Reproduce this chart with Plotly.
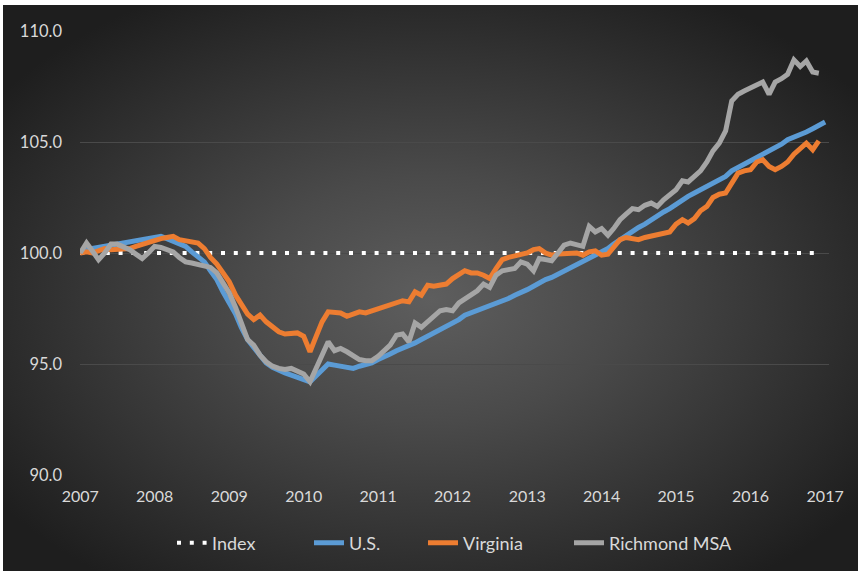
import base64
import pandas as pd
import plotly.graph_objects as go

# ---- data (monthly, Jan 2007 = start) ----
us = [100.0, 100.15, 100.2, 100.25, 100.3, 100.35, 100.4, 100.45, 100.5, 100.55,
      100.6, 100.65, 100.7, 100.75, 100.65, 100.55, 100.45, 100.3, 100.05, 99.85,
      99.6, 99.2, 98.8, 98.25, 97.75, 97.25, 96.65, 96.1, 95.75, 95.35,
      95.05, 94.85, 94.7, 94.6, 94.5, 94.4, 94.3, 94.2, 94.45, 94.75,
      95.0, 94.95, 94.9, 94.85, 94.8, 94.9, 94.95, 95.05, 95.2, 95.3,
      95.45, 95.6, 95.7, 95.85, 95.95, 96.1, 96.25, 96.4, 96.55, 96.7,
      96.85, 97.0, 97.2, 97.3, 97.4, 97.5, 97.6, 97.7, 97.8, 97.95,
      98.1, 98.2, 98.35, 98.5, 98.65, 98.8, 98.9, 99.05, 99.2, 99.3,
      99.45, 99.6, 99.75, 99.9, 100.05, 100.2, 100.4, 100.6, 100.8, 101.0,
      101.15, 101.3, 101.5, 101.65, 101.85, 102.0, 102.2, 102.4, 102.55, 102.7,
      102.85, 103.0, 103.2, 103.35, 103.45, 103.7, 103.85, 104.0, 104.15, 104.3,
      104.45, 104.55, 104.75, 104.9, 105.1, 105.2, 105.35, 105.45, 105.6, 105.75,
      105.9]

virginia = [100.0, 100.05, 100.0, 100.1, 100.2, 100.15, 100.15, 100.2, 100.2, 100.3,
            100.4, 100.5, 100.55, 100.65, 100.7, 100.75, 100.6, 100.55, 100.5, 100.45,
            100.2, 99.8, 99.5, 99.15, 98.7, 98.1, 97.7, 97.25, 97.0, 97.2,
            96.9, 96.65, 96.45, 96.35, 96.4, 96.4, 96.25, 95.55, 96.2, 96.9,
            97.35, 97.35, 97.3, 97.15, 97.25, 97.35, 97.3, 97.4, 97.5, 97.6,
            97.7, 97.8, 97.85, 97.8, 98.25, 98.1, 98.55, 98.5, 98.55, 98.6,
            98.85, 99.0, 99.2, 99.1, 99.1, 99.0, 98.85, 99.3, 99.7, 99.8,
            99.85, 99.9, 100.0, 100.15, 100.2, 100.0, 99.9, 99.95, 99.95, 100.0,
            100.0, 99.9, 100.05, 100.1, 99.9, 99.95, 100.3, 100.6, 100.7, 100.65,
            100.6, 100.7, 100.75, 100.85, 100.9, 100.95, 101.3, 101.5, 101.35, 101.55,
            101.9, 102.1, 102.5, 102.65, 102.7, 103.2, 103.6, 103.7, 103.75, 104.1,
            104.2, 103.9, 103.75, 103.9, 104.1, 104.45, 104.7, 104.95, 104.65, 105.05]

richmond = [100.0, 100.45, 100.1, 99.7, 100.0, 100.4, 100.4, 100.3, 100.15, 99.95,
            99.75, 100.0, 100.3, 100.25, 100.15, 100.05, 99.8, 99.6, 99.55, 99.5,
            99.45, 99.35, 99.1, 98.7, 98.2, 97.55, 96.8, 96.1, 95.85, 95.4,
            95.1, 94.9, 94.8, 94.75, 94.8, 94.65, 94.55, 94.2, 94.75, 95.3,
            96.0, 95.6, 95.7, 95.55, 95.35, 95.2, 95.15, 95.15, 95.35, 95.6,
            95.85, 96.3, 96.35, 96.0, 96.85, 96.65, 96.9, 97.1, 97.4, 97.45,
            97.4, 97.75, 97.95, 98.1, 98.3, 98.6, 98.45, 99.0, 99.2, 99.25,
            99.3, 99.6, 99.5, 99.2, 99.75, 99.7, 99.65, 100.0, 100.35, 100.45,
            100.35, 100.3, 101.2, 100.95, 101.1, 100.8, 101.1, 101.5, 101.75, 102.0,
            101.95, 102.15, 102.25, 102.1, 102.4, 102.6, 102.85, 103.25, 103.2, 103.45,
            103.7, 104.1, 104.6, 104.95, 105.5, 106.85, 107.15, 107.3, 107.45, 107.55,
            107.7, 107.15, 107.7, 107.85, 108.05, 108.7, 108.4, 108.65, 108.15, 108.1]

index_level = [100.0] * 120

months = pd.date_range("2007-01-01", periods=121, freq="MS")
year_ticks = pd.date_range("2007-01-01", periods=11, freq="YS")
year_labels = [str(d.year) for d in year_ticks]
y_ticks = [90, 95, 100, 105, 110]
y_labels = ["90.0", "95.0", "100.0", "105.0", "110.0"]

FONT = "Lato"
TXT = "#d9d9d9"

W, H = 858, 571
L, R, T, B = 80, 29, 31, 96
pw, ph = W - L - R, H - T - B

fig = go.Figure()
fig.add_trace(go.Scatter(x=months[:120], y=index_level, name="Index", mode="lines",
                         legend="legend",
                         line=dict(color="white", width=4, dash="4px,8.8px")))
fig.add_trace(go.Scatter(x=months[:121], y=us, name="U.S.", mode="lines",
                         legend="legend2",
                         line=dict(color="#5B9BD5", width=5)))
fig.add_trace(go.Scatter(x=months[:120], y=virginia, name="Virginia", mode="lines",
                         legend="legend3",
                         line=dict(color="#ED7D31", width=5)))
fig.add_trace(go.Scatter(x=months[:120], y=richmond, name="Richmond MSA", mode="lines",
                         legend="legend4",
                         line=dict(color="#A5A5A5", width=5)))

svg = ("<svg xmlns='http://www.w3.org/2000/svg' width='855' height='566' "
       "preserveAspectRatio='none'><defs><radialGradient id='g' cx='50%' cy='52%' r='62%'>"
       "<stop offset='0' stop-color='#5e5e5e'/><stop offset='0.35' stop-color='#4a4a4a'/>"
       "<stop offset='1' stop-color='#1e1e1e'/></radialGradient></defs>"
       "<rect width='855' height='566' fill='url(#g)'/></svg>")
src = "data:image/svg+xml;base64," + base64.b64encode(svg.encode()).decode()

fig.add_layout_image(dict(source=src, xref="paper", yref="paper",
                          x=(3 - L) / pw, y=(H - B - 5) / ph,
                          sizex=(W - 3) / pw, sizey=(H - 5) / ph,
                          xanchor="left", yanchor="top", sizing="stretch",
                          layer="below"))

# legend text start positions (px) to mimic the spread-out Excel legend
legend_text_px = [212, 349, 463, 609]
leg_y = (H - B - 543) / ph


def leg(px):
    return dict(orientation="h", x=(px - 40 - L) / pw, xanchor="left",
                y=leg_y, yanchor="middle",
                font=dict(family=FONT, color=TXT, size=18), bgcolor="rgba(0,0,0,0)")


fig.update_layout(
    width=W, height=H, autosize=False,
    margin=dict(l=L, r=R, t=T, b=B, autoexpand=False),
    paper_bgcolor="white", plot_bgcolor="rgba(0,0,0,0)",
    font=dict(family=FONT, color=TXT, size=16),
    showlegend=True,
    legend=leg(legend_text_px[0]),
    legend2=leg(legend_text_px[1]),
    legend3=leg(legend_text_px[2]),
    legend4=leg(legend_text_px[3]),
    xaxis=dict(range=["2006-12-31", "2017-01-20"], tickvals=year_ticks, ticktext=year_labels,
               showgrid=False, zeroline=False, showline=False, ticks="", automargin=False,
               tickfont=dict(family=FONT, color=TXT, size=16), ticklabelstandoff=10),
    yaxis=dict(range=[90, 110], tickvals=y_ticks, ticktext=y_labels, automargin=False,
               showgrid=True, gridcolor="#4a4a4a", gridwidth=1, zeroline=False,
               showline=False, ticks="", tickfont=dict(family=FONT, color=TXT, size=16.5),
               ticklabelstandoff=17),
)

fig.write_html("out.html", config={"displayModeBar": False},
               post_script="document.body.style.margin='0';document.body.style.overflow='hidden';")
